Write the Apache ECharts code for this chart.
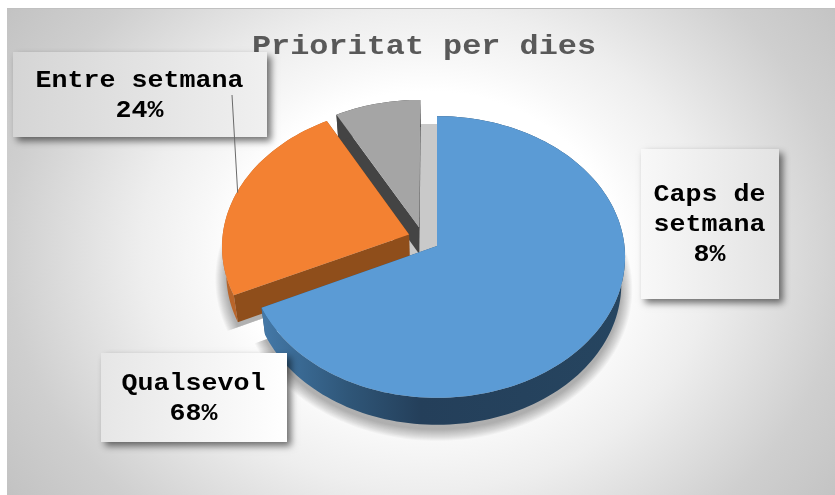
<!DOCTYPE html>
<html><head><meta charset="utf-8">
<style>html,body{margin:0;padding:0;background:#fff}#c{width:835px;height:495px}</style>
<script src="https://cdn.jsdelivr.net/npm/echarts@6/dist/echarts.min.js"></script>
</head><body><div id="c"></div>
<script>
const chartTitle = 'Prioritat per dies';
const categories = ['Qualsevol', 'Entre setmana', 'Caps de setmana'];
const shares = [68, 24, 8];
const labelLines = [['Qualsevol'], ['Entre setmana'], ['Caps de', 'setmana']];

const colors = ['#5b9bd5', '#f38132', '#a5a5a5'];
const edgeColors = ['#2e5475', '#8f4e1b', '#444444'];
const explode = [[0, 0], [-0.15, -0.083], [-0.097, -0.136]];
const boxes = [
  {x: 101, y: 353, w: 186, h: 89, from: '#e6e6e6', to: '#ffffff'},
  {x: 13, y: 52, w: 254, h: 85, from: '#d5d5d5', to: '#f0f0f0'},
  {x: 641, y: 149, w: 138, h: 150, from: '#f8f8f8', to: '#e3e3e3'}
];
const cx = 437, cy = 246, R = 187.5, K = 140, P = 0.078, DEPTH = 27, SHRINK = 0.98;
const SHADOW_LAYERS = 12, SHADOW_DROP = 5;
const total = shares.reduce((a, b) => a + b, 0);

function project(theta, i, r) {
  const X = Math.sin(theta) * r + explode[i][0];
  const Y = -Math.cos(theta) * r + explode[i][1];
  const s = 1 / (1 - P * Y);
  return [cx + R * X * s, cy + K * Y * s];
}
function lower(p) { return [cx + (p[0] - cx) * SHRINK, p[1] + DEPTH]; }
function range(i) {
  const before = shares.slice(0, i).reduce((a, b) => a + b, 0);
  return [before / total * 2 * Math.PI, (before + shares[i]) / total * 2 * Math.PI];
}
function grown(points, center, g) {
  return points.map(p => {
    const dx = p[0] - center[0], dy = p[1] - center[1];
    const d = Math.hypot(dx, dy) || 1;
    return [p[0] + dx / d * g, p[1] + dy / d * g + SHADOW_DROP];
  });
}

function renderSlice(params, api) {
  const i = params.dataIndex;
  const [a0, a1] = range(i);
  const arc = [];
  const n = Math.ceil((a1 - a0) / 0.03);
  for (let k = 0; k <= n; k++) arc.push(project(a0 + (a1 - a0) * k / n, i, 1));
  const apex = project(0, i, 0);
  const base = 10 * (3 - i);
  const outerFill = i === 0
    ? new echarts.graphic.LinearGradient(0, 0, 1, 0, [
        {offset: 0, color: '#4579a8'}, {offset: 0.1, color: '#3a6a94'},
        {offset: 0.24, color: '#2f5678'}, {offset: 0.44, color: '#243f5a'},
        {offset: 1, color: '#264560'}])
    : (i === 1 ? '#b9652a' : edgeColors[i]);
  const outer = arc.concat(arc.slice().reverse().map(lower));
  const silhouette = [lower(apex)].concat(arc.map(lower));
  const wall = [arc[0], apex, lower(apex), lower(arc[0])];
  const wallEnd = [arc[n], apex, lower(apex), lower(arc[n])];
  const children = [
    {type: 'polygon', z2: base + 1, shape: {points: wallEnd}, style: {fill: edgeColors[i]}},
    {type: 'polygon', z2: base + 2, shape: {points: wall}, style: {fill: edgeColors[i]}},
    {type: 'polygon', z2: base + 3, shape: {points: outer}, style: {fill: outerFill}},
    {type: 'polygon', z2: base + 4, shape: {points: [apex].concat(arc)}, style: {fill: colors[i]}}
  ];
  if (i < 2) {
    for (let g = 0; g < SHADOW_LAYERS; g++) {
      children.push({type: 'polygon', z2: 1, shape: {points: grown(silhouette, lower(apex), g)},
        style: {fill: 'rgba(0,0,0,0.028)'}});
    }
  }
  return {type: 'group', children};
}

function renderLabel(params, api) {
  const i = params.dataIndex;
  const b = boxes[i];
  const text = labelLines[i].concat(api.value(0) + '%').join('\n');
  const children = [
    {type: 'rect', z2: 1, shape: {x: b.x, y: b.y, width: b.w, height: b.h},
     style: {fill: new echarts.graphic.LinearGradient(0, 0, 1, 0, [{offset: 0, color: b.from}, {offset: 1, color: b.to}]),
             shadowBlur: 7, shadowOffsetX: 4, shadowOffsetY: 4, shadowColor: 'rgba(0,0,0,0.55)'}},
    {type: 'text', z2: 3, x: b.x + b.w / 2 - 0.5, y: b.y + b.h / 2 + 1, scaleX: 1.11, scaleY: 1,
     style: {text, align: 'center', verticalAlign: 'middle', fill: '#000',
             font: 'bold 24px "Liberation Mono"', lineHeight: 30}}
  ];
  if (i === 1) {
    const [a0, a1] = range(i);
    const end = project((a0 + a1) / 2, i, 1);
    children.push({type: 'line', z2: 2, shape: {x1: 232, y1: 95, x2: end[0] + 1, y2: end[1]},
                   style: {stroke: '#6a6a6a', lineWidth: 1}});
  }
  return {type: 'group', children};
}

const chart = echarts.init(document.getElementById('c'), null, {renderer: 'canvas'});
const seriesData = categories.map((name, i) => ({name, value: [shares[i]]}));
chart.setOption({
  animation: false,
  backgroundColor: '#ffffff',
  tooltip: {show: false},
  graphic: [
    {type: 'rect', z: -10, x: -119, y: -209, scaleX: 1.092, scaleY: 0.918, silent: true,
     shape: {x: 0, y: 0, width: 1000, height: 1000},
     style: {fill: new echarts.graphic.RadialGradient(0.5, 0.5, 0.5, [
       {offset: 0, color: '#ffffff'}, {offset: 0.346, color: '#ffffff'},
       {offset: 0.412, color: '#f8f8f8'}, {offset: 0.523, color: '#eeeeee'},
       {offset: 0.769, color: '#cfcfcf'}, {offset: 0.915, color: '#c4c4c4'}, {offset: 1, color: '#bbbbbb'}])}},
    {type: 'rect', z: -9, silent: true, shape: {x: 0, y: 0, width: 835, height: 8}, style: {fill: '#ffffff'}},
    {type: 'rect', z: -9, silent: true, shape: {x: 0, y: 8, width: 835, height: 1}, style: {fill: '#c0c0c0'}},
    {type: 'rect', z: -9, silent: true, shape: {x: 0, y: 0, width: 7, height: 495}, style: {fill: '#ffffff'}},
    {type: 'rect', z: -8, silent: true, shape: {x: 405, y: 124, width: 40, height: 140},
     style: {fill: '#c9c9c9'}},
    {type: 'text', z: 1, silent: true, x: 424, y: 47, scaleX: 1.18, scaleY: 1,
     style: {text: chartTitle, align: 'center', verticalAlign: 'middle', fill: '#595959',
             font: 'bold 27px "Liberation Mono"'}}
  ],
  series: [
    {type: 'custom', name: 'slices', coordinateSystem: 'none', z: 2, silent: true, renderItem: renderSlice, data: seriesData},
    {type: 'custom', name: 'labels', coordinateSystem: 'none', z: 5, silent: true, renderItem: renderLabel, data: seriesData}
  ]
});
</script></body></html>
